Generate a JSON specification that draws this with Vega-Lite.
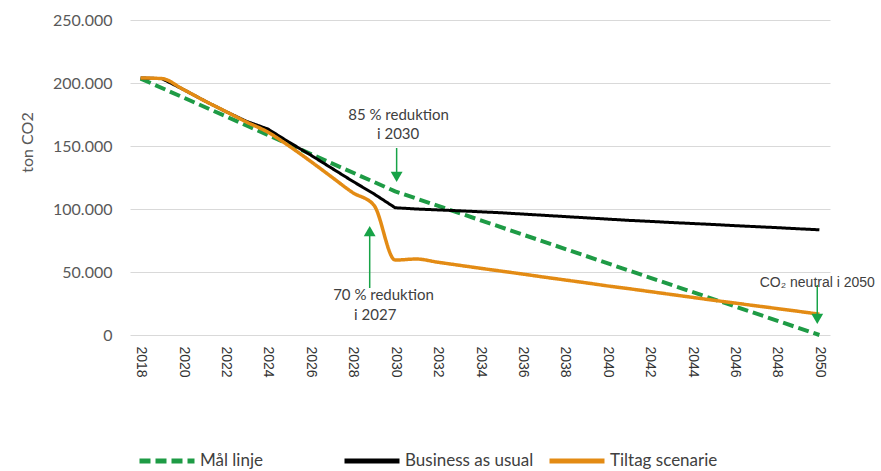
{
  "$schema": "https://vega.github.io/schema/vega-lite/v6.json",
  "width": 700,
  "height": 315,
  "autosize": "none",
  "padding": {"left": 130, "top": 20, "right": 51, "bottom": 136},
  "background": "white",
  "config": {"view": {"stroke": null}},
  "datasets": {
    "lines": [
      {"series": "Mål linje", "year": 2018, "value": 203500},
      {"series": "Mål linje", "year": 2030, "value": 114000},
      {"series": "Mål linje", "year": 2050, "value": 0},
      {"series": "Business as usual", "year": 2018, "value": 204000},
      {"series": "Business as usual", "year": 2019, "value": 203500},
      {"series": "Business as usual", "year": 2020, "value": 195000},
      {"series": "Business as usual", "year": 2021, "value": 186000},
      {"series": "Business as usual", "year": 2022, "value": 177500},
      {"series": "Business as usual", "year": 2023, "value": 169500},
      {"series": "Business as usual", "year": 2024, "value": 163500},
      {"series": "Business as usual", "year": 2025, "value": 153000},
      {"series": "Business as usual", "year": 2026, "value": 143000},
      {"series": "Business as usual", "year": 2027, "value": 132500},
      {"series": "Business as usual", "year": 2028, "value": 122000},
      {"series": "Business as usual", "year": 2029, "value": 112000},
      {"series": "Business as usual", "year": 2030, "value": 101000},
      {"series": "Business as usual", "year": 2031, "value": 100000},
      {"series": "Business as usual", "year": 2032, "value": 99300},
      {"series": "Business as usual", "year": 2033, "value": 98600},
      {"series": "Business as usual", "year": 2034, "value": 97800},
      {"series": "Business as usual", "year": 2035, "value": 97000},
      {"series": "Business as usual", "year": 2036, "value": 96000},
      {"series": "Business as usual", "year": 2037, "value": 95000},
      {"series": "Business as usual", "year": 2038, "value": 94000},
      {"series": "Business as usual", "year": 2039, "value": 93000},
      {"series": "Business as usual", "year": 2040, "value": 92000},
      {"series": "Business as usual", "year": 2041, "value": 91000},
      {"series": "Business as usual", "year": 2042, "value": 90200},
      {"series": "Business as usual", "year": 2043, "value": 89300},
      {"series": "Business as usual", "year": 2044, "value": 88500},
      {"series": "Business as usual", "year": 2045, "value": 87700},
      {"series": "Business as usual", "year": 2046, "value": 86800},
      {"series": "Business as usual", "year": 2047, "value": 86000},
      {"series": "Business as usual", "year": 2048, "value": 85200},
      {"series": "Business as usual", "year": 2049, "value": 84300},
      {"series": "Business as usual", "year": 2050, "value": 83500},
      {"series": "Tiltag scenarie", "year": 2018, "value": 204000},
      {"series": "Tiltag scenarie", "year": 2019, "value": 203500},
      {"series": "Tiltag scenarie", "year": 2020, "value": 195000},
      {"series": "Tiltag scenarie", "year": 2021, "value": 186000},
      {"series": "Tiltag scenarie", "year": 2022, "value": 177500},
      {"series": "Tiltag scenarie", "year": 2023, "value": 169000},
      {"series": "Tiltag scenarie", "year": 2024, "value": 161000},
      {"series": "Tiltag scenarie", "year": 2025, "value": 150000},
      {"series": "Tiltag scenarie", "year": 2026, "value": 138000},
      {"series": "Tiltag scenarie", "year": 2027, "value": 125500},
      {"series": "Tiltag scenarie", "year": 2028, "value": 113000},
      {"series": "Tiltag scenarie", "year": 2029, "value": 103000},
      {"series": "Tiltag scenarie", "year": 2030, "value": 59500},
      {"series": "Tiltag scenarie", "year": 2031, "value": 60300},
      {"series": "Tiltag scenarie", "year": 2032, "value": 57800},
      {"series": "Tiltag scenarie", "year": 2033, "value": 55400},
      {"series": "Tiltag scenarie", "year": 2034, "value": 53000},
      {"series": "Tiltag scenarie", "year": 2035, "value": 50700},
      {"series": "Tiltag scenarie", "year": 2036, "value": 48400},
      {"series": "Tiltag scenarie", "year": 2037, "value": 46000},
      {"series": "Tiltag scenarie", "year": 2038, "value": 43700},
      {"series": "Tiltag scenarie", "year": 2039, "value": 41400},
      {"series": "Tiltag scenarie", "year": 2040, "value": 39000},
      {"series": "Tiltag scenarie", "year": 2041, "value": 36800},
      {"series": "Tiltag scenarie", "year": 2042, "value": 34500},
      {"series": "Tiltag scenarie", "year": 2043, "value": 32200},
      {"series": "Tiltag scenarie", "year": 2044, "value": 29900},
      {"series": "Tiltag scenarie", "year": 2045, "value": 27600},
      {"series": "Tiltag scenarie", "year": 2046, "value": 25400},
      {"series": "Tiltag scenarie", "year": 2047, "value": 23200},
      {"series": "Tiltag scenarie", "year": 2048, "value": 21000},
      {"series": "Tiltag scenarie", "year": 2049, "value": 18800},
      {"series": "Tiltag scenarie", "year": 2050, "value": 16500}
    ],
    "arrows": [
      {"year": 2030.07, "value": 148400, "value2": 127500},
      {"year": 2028.8, "value": 37300, "value2": 80000},
      {"year": 2049.9, "value": 39700, "value2": 16000}
    ],
    "heads": [
      {"year": 2030.07, "value": 125400, "dir": "down"},
      {"year": 2028.8, "value": 82500, "dir": "up"},
      {"year": 2049.9, "value": 12700, "dir": "down"}
    ],
    "notes": [
      {"year": 2030.16, "value": 174600, "label": "85 % reduktion"},
      {"year": 2030.14, "value": 159500, "label": "i 2030"},
      {"year": 2029.45, "value": 31700, "label": "70 % reduktion"},
      {"year": 2029.06, "value": 15900, "label": "i 2027"}
    ],
    "notes2": [
      {"year": 2049.9, "value": 41300, "label": "CO₂ neutral i 2050"}
    ]
  },
  "encoding": {
    "x": {
      "field": "year",
      "type": "quantitative",
      "scale": {"domain": [2017.5, 2050.5], "nice": false, "zero": false},
      "axis": {
        "values": [2018, 2020, 2022, 2024, 2026, 2028, 2030, 2032, 2034, 2036, 2038, 2040, 2042, 2044, 2046, 2048, 2050],
        "format": "d",
        "labelAngle": 90,
        "labelAlign": "left",
        "labelBaseline": "middle",
        "labelPadding": 11,
        "labelFont": "Liberation Sans",
        "labelFontSize": 14,
        "labelColor": "#333333",
        "labelOverlap": false,
        "labelFlush": false,
        "ticks": false,
        "tickSize": 0,
        "domain": false,
        "grid": false,
        "title": null
      }
    },
    "y": {
      "field": "value",
      "type": "quantitative",
      "scale": {"domain": [0, 250000], "nice": false},
      "axis": {
        "values": [0, 50000, 100000, 150000, 200000, 250000],
        "labelExpr": "replace(format(datum.value, ','), ',', '.')",
        "labelFont": "Lato",
        "labelFontSize": 16,
        "labelColor": "#595959",
        "labelPadding": 18,
        "ticks": false,
        "tickSize": 0,
        "domain": false,
        "grid": true,
        "gridColor": "#d9d9d9",
        "gridWidth": 1,
        "title": "ton CO2",
        "titleFont": "Lato",
        "titleFontSize": 16,
        "titleFontWeight": "normal",
        "titleColor": "#595959",
        "titleAngle": -90,
        "titleX": -103,
        "titleY": 122,
        "titleAlign": "center",
        "titleBaseline": "middle"
      }
    }
  },
  "layer": [
    {
      "data": {"name": "lines"},
      "transform": [{"filter": "datum.series === 'Mål linje'"}],
      "mark": {"type": "line", "interpolate": "linear", "strokeWidth": 4, "strokeCap": "butt"},
      "encoding": {
        "color": {
          "field": "series",
          "type": "nominal",
          "scale": {"domain": ["Mål linje", "Business as usual", "Tiltag scenarie"], "range": ["#1e9b45", "#000000", "#e38b14"]},
          "legend": {
            "title": null,
            "orient": "none",
            "legendX": 7,
            "legendY": 411,
            "direction": "horizontal",
            "columns": 3,
            "gridAlign": "all",
            "columnPadding": 5,
            "symbolType": "stroke",
            "symbolSize": 3025,
            "symbolStrokeWidth": 5,
            "labelFont": "Lato",
            "labelFontSize": 17,
            "labelColor": "#404040",
            "labelOffset": 3,
            "labelLimit": 300
          }
        },
        "strokeDash": {
          "field": "series",
          "type": "nominal",
          "scale": {"domain": ["Mål linje", "Business as usual", "Tiltag scenarie"], "range": [[11, 5], [1, 0], [1, 0]]}
        }
      }
    },
    {
      "data": {"name": "lines"},
      "transform": [{"filter": "datum.series === 'Business as usual'"}],
      "mark": {"type": "line", "interpolate": "linear", "strokeWidth": 3, "strokeJoin": "round"},
      "encoding": {
        "color": {"field": "series", "type": "nominal"},
        "strokeDash": {"field": "series", "type": "nominal"}
      }
    },
    {
      "data": {"name": "lines"},
      "transform": [{"filter": "datum.series === 'Tiltag scenarie'"}],
      "mark": {"type": "line", "interpolate": "monotone", "strokeWidth": 3.5, "strokeJoin": "round"},
      "encoding": {
        "color": {"field": "series", "type": "nominal"},
        "strokeDash": {"field": "series", "type": "nominal"}
      }
    },
    {
      "data": {"name": "arrows"},
      "mark": {"type": "rule", "color": "#17a347", "strokeWidth": 1.5},
      "encoding": {"y2": {"field": "value2"}}
    },
    {
      "data": {"name": "heads"},
      "mark": {"type": "point", "filled": true, "color": "#17a347", "size": 140, "opacity": 1},
      "encoding": {
        "shape": {"field": "dir", "type": "nominal", "scale": {"domain": ["down", "up"], "range": ["triangle-down", "triangle-up"]}, "legend": null}
      }
    },
    {
      "data": {"name": "notes"},
      "mark": {"type": "text", "font": "Lato", "fontSize": 15, "color": "#404040", "align": "center", "baseline": "middle"},
      "encoding": {"text": {"field": "label"}}
    },
    {
      "data": {"name": "notes2"},
      "mark": {"type": "text", "font": "Liberation Sans", "fontSize": 14, "color": "#404040", "align": "center", "baseline": "middle"},
      "encoding": {"text": {"field": "label"}}
    }
  ]
}
